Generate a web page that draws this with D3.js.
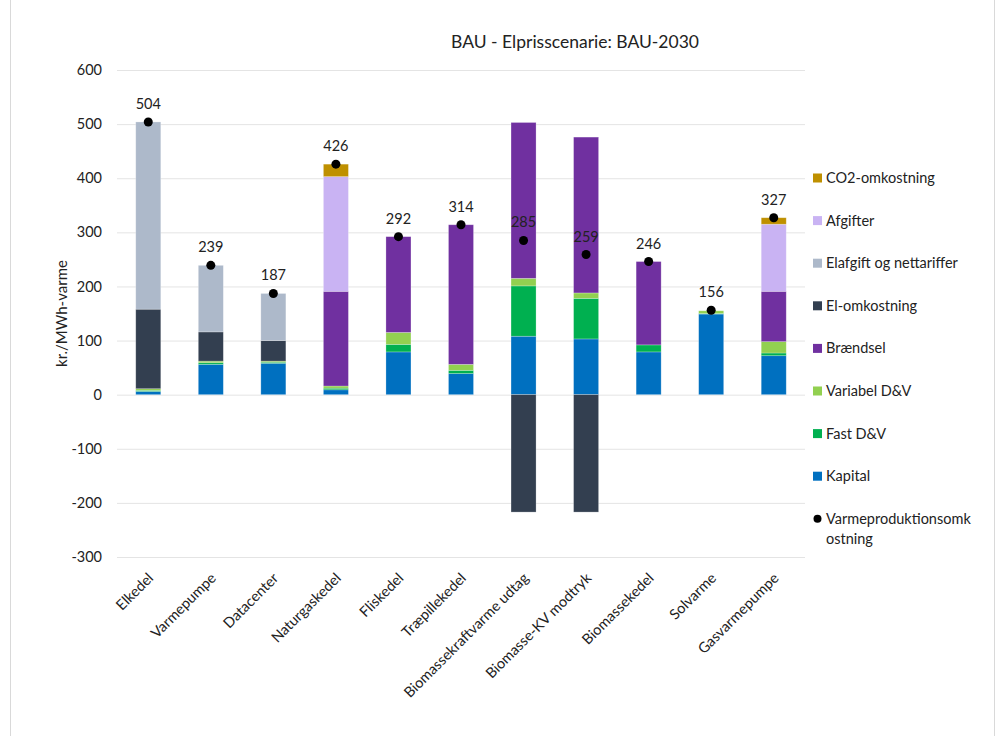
<!DOCTYPE html>
<html>
<head>
<meta charset="utf-8">
<script src="https://cdn.jsdelivr.net/npm/d3@7"></script>
<style>
  body { margin: 0; background: #fff; }
  svg { font-family: Lato, "Liberation Sans", sans-serif; }
</style>
</head>
<body>
<svg id="chart" width="1002" height="736"></svg>
<script>
// categories and series values (kr./MWh-varme)
const categories = ["Elkedel", "Varmepumpe", "Datacenter", "Naturgaskedel", "Fliskedel",
  "Træpillekedel", "Biomassekraftvarme udtag", "Biomasse-KV modtryk", "Biomassekedel",
  "Solvarme", "Gasvarmepumpe"];

const kapital      = [6, 56, 58, 9, 79, 39, 108, 103, 79, 149, 72];
const fastDV       = [2, 3, 2, 3, 14, 6, 93, 75, 13, 1, 5];
const variabelDV   = [3, 3, 2, 4, 22, 11, 14, 10, 0, 5, 21];
const braendsel    = [0, 0, 0, 175, 177, 258, 288, 288, 154, 0, 93];
const elOmk        = [147, 54, 38, 0, 0, 0, -217, -217, 0, 0, 0];
const elafgift     = [346, 123, 87, 0, 0, 0, 0, 0, 0, 0, 0];
const afgifter     = [0, 0, 0, 212, 0, 0, 0, 0, 0, 0, 124];
const co2          = [0, 0, 0, 23, 0, 0, 0, 0, 0, 0, 12];
const varmeprod    = [504, 239, 187, 426, 292, 314, 285, 259, 246, 156, 327];

const yTicks = [-300, -200, -100, 0, 100, 200, 300, 400, 500, 600];

// stacking order bottom -> top
const series = [
  { name: "Kapital", values: kapital, color: "#0070C0" },
  { name: "Fast D&V", values: fastDV, color: "#00B050" },
  { name: "Variabel D&V", values: variabelDV, color: "#92D050" },
  { name: "Brændsel", values: braendsel, color: "#7030A0" },
  { name: "El-omkostning", values: elOmk, color: "#333F50" },
  { name: "Elafgift og nettariffer", values: elafgift, color: "#ADB9CA" },
  { name: "Afgifter", values: afgifter, color: "#C9B3F3" },
  { name: "CO2-omkostning", values: co2, color: "#BF9000" }
];

const svg = d3.select("#chart");
const margin = { top: 70, left: 117, right: 197, bottom: 179 };
const W = 1002, H = 736;
const fs = "14.5px";

// chart frame
svg.append("rect")
  .attr("x", 10.5).attr("y", -1)
  .attr("width", 984).attr("height", 745)
  .attr("fill", "none").attr("stroke", "#d9d9d9");

const x = d3.scaleBand()
  .domain(categories)
  .range([margin.left, W - margin.right])
  .paddingInner(0.6).paddingOuter(0.3);

const y = d3.scaleLinear()
  .domain([-300, 600])
  .range([H - margin.bottom, margin.top]);

// gridlines
svg.append("g")
  .selectAll("line")
  .data(yTicks)
  .join("line")
  .attr("x1", margin.left).attr("x2", W - margin.right)
  .attr("y1", d => y(d) + 0.5).attr("y2", d => y(d) + 0.5)
  .attr("stroke", "#e4e4e4");

// y axis labels
svg.append("g")
  .attr("transform", `translate(${margin.left - 15},0)`)
  .call(d3.axisLeft(y).tickValues(yTicks).tickSize(0).tickPadding(0).tickFormat(d => String(d)))
  .call(g => g.select(".domain").remove())
  .selectAll("text")
  .style("font-family", "Lato, sans-serif")
  .style("font-size", fs)
  .attr("fill", "#222");

// y axis title
svg.append("text")
  .attr("transform", `translate(67,${(y(600) + y(-300)) / 2}) rotate(-90)`)
  .attr("text-anchor", "middle")
  .style("font-size", "15px")
  .attr("fill", "#222")
  .text("kr./MWh-varme");

// stacked bars, positive and negative stacked separately
const posBase = categories.map(() => 0);
const negBase = categories.map(() => 0);
const barG = svg.append("g");
series.forEach(s => {
  const segs = s.values.map((v, i) => {
    let y0, y1;
    if (v >= 0) { y0 = posBase[i]; y1 = y0 + v; posBase[i] = y1; }
    else { y0 = negBase[i]; y1 = y0 + v; negBase[i] = y1; }
    return { cat: categories[i], y0, y1, v };
  }).filter(d => d.v !== 0);
  barG.selectAll(null)
    .data(segs)
    .join("rect")
    .attr("x", d => x(d.cat))
    .attr("width", x.bandwidth())
    .attr("y", d => y(Math.max(d.y0, d.y1)))
    .attr("height", d => Math.abs(y(d.y0) - y(d.y1)))
    .attr("fill", s.color)
    .attr("stroke", "rgba(255,255,255,0.35)")
    .attr("stroke-width", 0.7);
});

// total markers and labels
const dots = svg.append("g");
dots.selectAll("circle")
  .data(varmeprod)
  .join("circle")
  .attr("cx", (d, i) => x(categories[i]) + x.bandwidth() / 2)
  .attr("cy", d => y(d))
  .attr("r", 4.5)
  .attr("fill", "#000");
dots.selectAll("text")
  .data(varmeprod)
  .join("text")
  .attr("x", (d, i) => x(categories[i]) + x.bandwidth() / 2)
  .attr("y", d => y(d) - 13)
  .attr("text-anchor", "middle")
  .style("font-size", fs)
  .attr("fill", "#222")
  .text(d => d);

// x labels
svg.append("g")
  .selectAll("text")
  .data(categories)
  .join("text")
  .attr("transform", d => `translate(${x(d) + x.bandwidth() / 2 + 6},${y(-300) + 22}) rotate(-45)`)
  .attr("text-anchor", "end")
  .style("font-size", fs)
  .attr("fill", "#222")
  .text(d => d);

// title
svg.append("text")
  .attr("x", 575).attr("y", 48)
  .attr("text-anchor", "middle")
  .style("font-size", "17.5px")
  .attr("fill", "#222")
  .text("BAU - Elprisscenarie: BAU-2030");

// legend (top to bottom reversed stack order, then markers)
const legendItems = series.slice().reverse().map(s => ({ name: s.name, color: s.color, type: "rect" }));
legendItems.push({ name: ["Varmeproduktionsomk", "ostning"], color: "#000", type: "circle" });
const lg = svg.append("g").attr("transform", "translate(813,178)");
const item = lg.selectAll("g")
  .data(legendItems)
  .join("g")
  .attr("transform", (d, i) => `translate(0,${i * 42.6})`);
item.filter(d => d.type === "rect").append("rect")
  .attr("x", 0).attr("y", -4.5).attr("width", 9).attr("height", 9)
  .attr("fill", d => d.color);
item.filter(d => d.type === "circle").append("circle")
  .attr("cx", 4.5).attr("cy", 0).attr("r", 4)
  .attr("fill", d => d.color);
item.append("text")
  .attr("x", 13).attr("y", 0).attr("dy", "0.35em")
  .style("font-size", fs)
  .attr("fill", "#222")
  .each(function(d) {
    const t = d3.select(this);
    if (Array.isArray(d.name)) {
      d.name.forEach((line, j) => t.append("tspan").attr("x", 13).attr("dy", j === 0 ? "0.35em" : "1.4em").text(line));
    } else {
      t.text(d.name);
    }
  });
</script>
</body>
</html>
